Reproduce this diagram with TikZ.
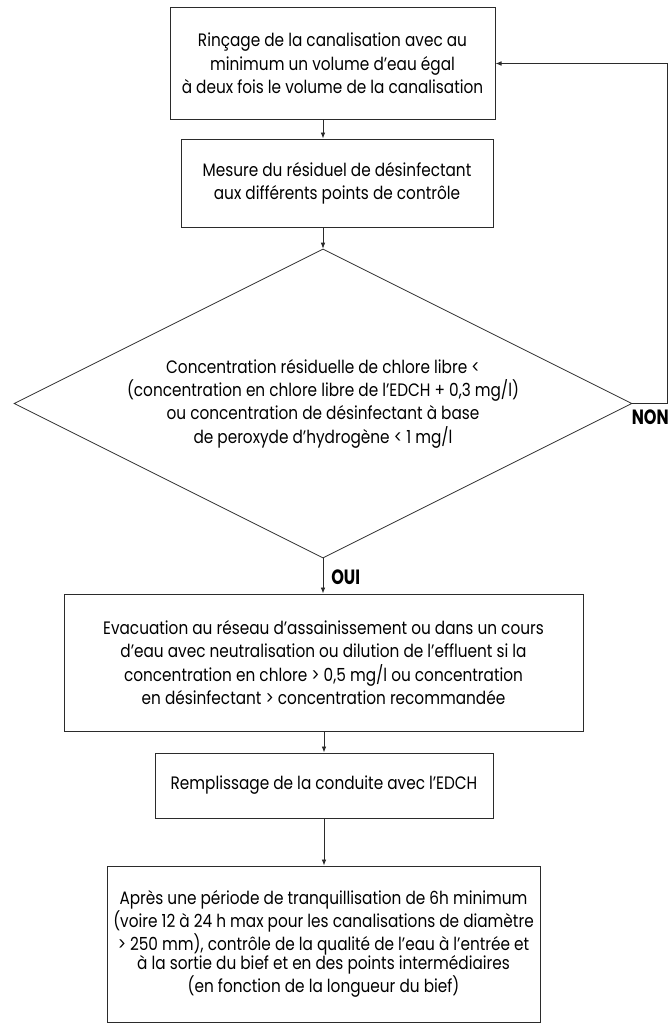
\documentclass[tikz,border=0pt]{standalone}
\usepackage{fontspec}
\setmainfont{Poppins}[FakeStretch=0.85]
\newfontfamily\answerfont{Poppins Bold}[FakeStretch=0.78]
\usepackage{xcolor}
\definecolor{outline}{HTML}{2B2B2B}
\usepackage{tikz}
\usetikzlibrary{
    arrows.meta,
    positioning,
    shapes.geometric,
}

\begin{document}
\begin{tikzpicture}[%
    x=0.75pt,
    y=-0.75pt,
    every node/.style={
        font=\fontsize{13.5}{17.5}\selectfont,
        align=center,
        inner sep=0,
    },
    block/.style={
        rectangle,
        draw=outline,
        line width=0.75pt,
    },
    tight/.style={
        font=\fontsize{13.5}{14.5}\selectfont,
    },
    decision/.style={
        diamond,
        aspect=2,
        draw=outline,
        line width=0.6pt,
        minimum width=463.5pt,
        minimum height=231.75pt,
    },
    answer/.style={
        font=\answerfont\fontsize{15.5}{15.5}\selectfont,
    },
    flow/.style={
        draw=outline,
        line width=0.6pt,
        -{Latex[length=4.5pt,width=3.5pt]},
    },
]

\useasboundingbox (0, 0) rectangle (671, 1024);

% steps
\node [block, minimum width=243.75pt, minimum height=83.25pt] (rincage) at (332.5, 63.5)
    {Rinçage de la canalisation avec au\\
     minimum un volume d’eau égal\\
     à deux fois le volume de la canalisation};
\node [block, minimum width=234pt, minimum height=66pt] (mesure) at (337, 183)
    {Mesure du résiduel de désinfectant\\
     aux différents points de contrôle};
\node [decision] (test) at (323, 403.5)
    {Concentration résiduelle de chlore libre <\\
     (concentration en chlore libre de l’EDCH + 0,3 mg/l)\\
     ou concentration de désinfectant à base\\
     de peroxyde d’hydrogène < 1 mg/l};
\node [block, minimum width=389.25pt, minimum height=102.75pt] (evacuation) at (323.5, 662.5)
    {Evacuation au réseau d’assainissement ou dans un cours\\
     d’eau avec neutralisation ou dilution de l’effluent si la\\
     concentration en chlore > 0,5 mg/l ou concentration\\
     en désinfectant > concentration recommandée};
\node [block, minimum width=253.5pt, minimum height=48.75pt] (remplissage) at (324, 785.5)
    {Remplissage de la conduite avec l’EDCH};
\node [block, tight, minimum width=324.75pt, minimum height=117pt] (controle) at (323.5, 944)
    {Après une période de tranquillisation de 6h minimum\\
     (voire 12 à 24 h max pour les canalisations de diamètre\\
     > 250 mm), contrôle de la qualité de l’eau à l’entrée et\\
     à la sortie du bief et en des points intermédiaires\\
     (en fonction de la longueur du bief)};

% connectors
\coordinate (loopx) at (667, 0);
\draw [flow] (rincage.south -| test.north) -- (mesure.north -| test.north);
\draw [flow] (mesure.south -| test.north) -- (test.north);
\draw [flow] (test.south) -- (evacuation.north -| test.south);
\draw [flow] (evacuation.south -| remplissage.north) -- (remplissage.north);
\draw [flow] (remplissage.south) -- (controle.north -| remplissage.south);
\draw [flow] (test.east) -- (test.east -| loopx) |- (rincage.east);

\node [answer, anchor=north east] (non) at (669, 410) {NON};
\node [answer, anchor=west] (oui) at (331, 577) {OUI};

\end{tikzpicture}
\end{document}
